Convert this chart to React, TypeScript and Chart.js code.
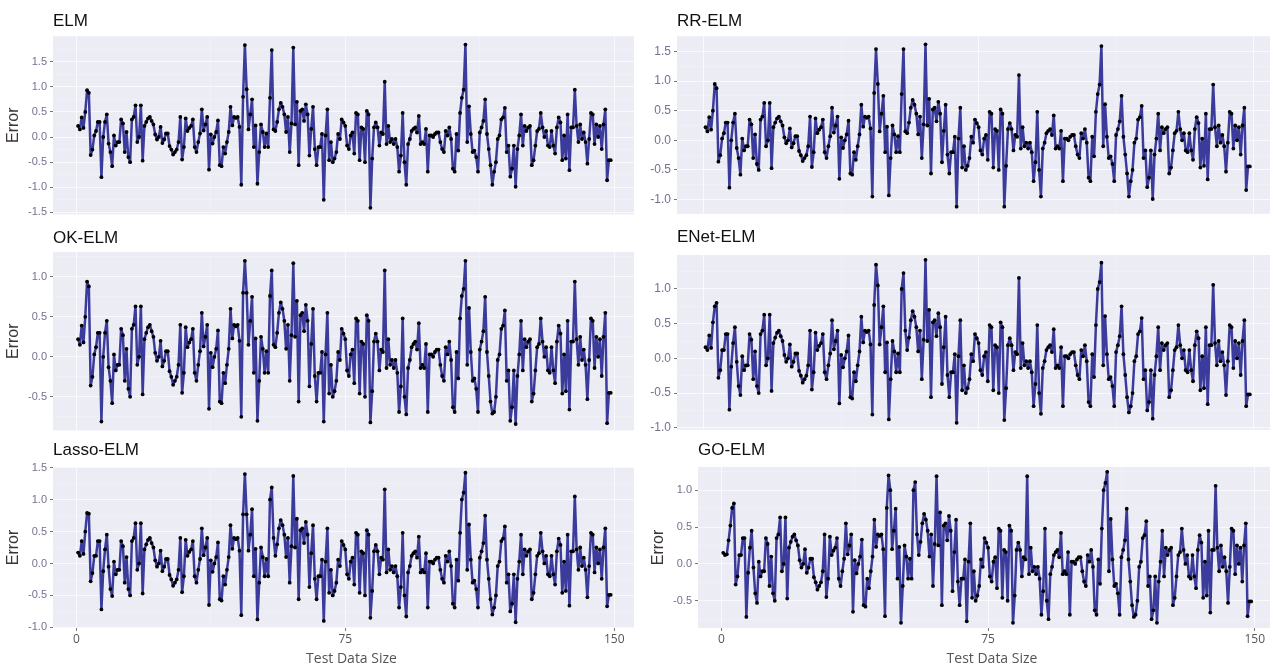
import React, { useEffect, useRef } from "react";
import { Chart, registerables } from "chart.js";
Chart.register(...registerables);

// ---------- data ----------
const ELM_ERR = [
  0.22, 0.15, 0.39, 0.18, 0.5, 0.93, 0.88, -0.36, -0.25, 0.03,
  0.12, 0.3, 0.3, -0.8, 0.0, 0.3, 0.45, -0.13, -0.3, -0.58,
  0.03, -0.17, -0.1, -0.1, 0.35, 0.27, -0.3, 0.1, -0.4, -0.5,
  0.35, 0.4, 0.63, -0.1, 0.0, 0.63, -0.47, 0.22, 0.3, 0.37,
  0.4, 0.32, 0.25, 0.05, -0.05, 0.0, 0.2, -0.12, -0.05, 0.07,
  0.07, -0.18, -0.25, -0.35, -0.3, -0.25, -0.1, 0.4, -0.45, -0.2,
  0.37, 0.12, 0.18, 0.22, 0.35, -0.2, -0.3, -0.1, 0.07, 0.55,
  0.13, 0.25, 0.4, -0.65, 0.05, -0.13, 0.0, 0.1, 0.33, -0.56,
  -0.58, -0.2, -0.33, -0.1, 0.1, 0.6, 0.23, 0.4, 0.38, 0.4,
  0.2, -0.95, 0.8, 1.83,
  0.95, 0.15, 0.45, 0.75, -0.2, 0.23, -0.93, -0.3, 0.25, 0.1,
  -0.2, 0.07, -0.2, 0.78, 1.73, 0.15, 0.12, 0.3, 0.55, 0.68,
  0.6, 0.45, 0.1, 0.4, -0.3, 0.27, 1.78,
  0.25, 0.7, -0.56, 0.52, 0.55, 0.32, 0.65, 0.45, -0.37, 0.16,
  0.6, -0.24, -0.56, -0.2, -0.2, 0.06, -1.25,
  0.03, 0.55, -0.46, -0.1, -0.5, -0.43, -0.3, 0.06, -0.04, 0.35,
  0.29, 0.22, -0.17, -0.24, 0.03, 0.09, -0.33, 0.48, 0.45, -0.46,
  0.19, 0.16, -0.5, 0.52, 0.45, -1.41,
  -0.43, 0.19, 0.29, 0.19, -0.17, 0.09, 0.06, 1.1,
  -0.14, 0.22, -0.1, -0.04, -0.14, -0.04, -0.2, -0.69, -0.37, 0.48,
  -0.5, -0.95, -0.14, -0.04, 0.12, 0.16, 0.19, 0.09, 0.42, -0.14,
  -0.1, -0.14, 0.16, -0.69, 0.03, 0.03, 0.0, 0.06, 0.09, 0.09,
  -0.1, -0.24, -0.3, 0.12, 0.03, 0.19, -0.04, -0.63, -0.69, 0.06,
  -0.27, 0.48, 0.78, 0.94, 1.84,
  -0.1, 0.61, 0.06, -0.3, -0.27, -0.4, -0.69, 0.09, 0.19, 0.32,
  0.75, 0.06, -0.24, -0.56, -0.95, -0.69, -0.5, -0.04, 0.03, 0.35,
  0.39, 0.58, -0.3, -0.17, -0.79, -0.63, -0.17, -0.99, -0.24, 0.03,
  0.45, -0.17, 0.22, 0.12, 0.19, 0.22, -0.56, -0.46, -0.17, 0.12,
  0.16, 0.48, 0.19, 0.0, 0.12, -0.17, -0.2, 0.12, -0.17, -0.33,
  0.19, 0.39, 0.29, -0.46, 0.03, -0.43, 0.45, -0.66, 0.19, 0.19,
  0.94,
  0.22, -0.1, 0.25, -0.04, 0.09, -0.1, -0.53, -0.04, 0.48, 0.45,
  -0.14, 0.25, 0.0, 0.22, -0.24, 0.25, 0.55, -0.86, -0.46, -0.46,
];

const RR_ELM_ERR = [
  0.22, 0.15, 0.39, 0.18, 0.5, 0.95, 0.88, -0.36, -0.25, 0.03,
  0.12, 0.3, 0.3, -0.8, 0.0, 0.3, 0.45, -0.13, -0.3, -0.58,
  0.03, -0.17, -0.1, -0.1, 0.35, 0.27, -0.3, 0.1, -0.4, -0.5,
  0.35, 0.4, 0.63, -0.1, 0.0, 0.63, -0.47, 0.22, 0.3, 0.37,
  0.4, 0.32, 0.25, 0.05, -0.05, 0.0, 0.2, -0.12, -0.05, 0.07,
  0.07, -0.18, -0.25, -0.35, -0.3, -0.25, -0.1, 0.4, -0.45, -0.2,
  0.37, 0.12, 0.18, 0.22, 0.35, -0.2, -0.3, -0.1, 0.07, 0.55,
  0.13, 0.25, 0.4, -0.65, 0.05, -0.13, 0.0, 0.1, 0.33, -0.56,
  -0.58, -0.2, -0.33, -0.1, 0.1, 0.6, 0.23, 0.4, 0.38, 0.4,
  0.2, -0.95, 0.8, 1.54,
  0.95, 0.15, 0.45, 0.75, -0.2, 0.23, -0.93, -0.3, 0.25, 0.1,
  -0.2, 0.07, -0.2, 0.78, 1.54, 0.15, 0.12, 0.3, 0.55, 0.68,
  0.6, 0.45, 0.1, 0.4, -0.3, 0.27, 1.62,
  0.25, 0.7, -0.56, 0.52, 0.55, 0.32, 0.65, 0.45, -0.37, 0.16,
  0.6, -0.24, -0.56, -0.2, -0.2, 0.06, -1.12,
  0.03, 0.55, -0.46, -0.1, -0.5, -0.43, -0.3, 0.06, -0.04, 0.35,
  0.29, 0.22, -0.17, -0.24, 0.03, 0.09, -0.33, 0.48, 0.45, -0.46,
  0.19, 0.16, -0.5, 0.52, 0.45, -1.12,
  -0.43, 0.19, 0.29, 0.19, -0.17, 0.09, 0.06, 1.1,
  -0.14, 0.22, -0.1, -0.04, -0.14, -0.04, -0.2, -0.69, -0.37, 0.48,
  -0.5, -0.95, -0.14, -0.04, 0.12, 0.16, 0.19, 0.09, 0.42, -0.14,
  -0.1, -0.14, 0.16, -0.69, 0.03, 0.03, 0.0, 0.06, 0.09, 0.09,
  -0.1, -0.24, -0.3, 0.12, 0.03, 0.19, -0.04, -0.63, -0.69, 0.06,
  -0.27, 0.48, 0.78, 0.94, 1.59,
  -0.1, 0.61, 0.06, -0.3, -0.27, -0.4, -0.69, 0.09, 0.19, 0.32,
  0.75, 0.06, -0.24, -0.56, -0.95, -0.69, -0.5, -0.04, 0.03, 0.35,
  0.39, 0.58, -0.3, -0.17, -0.79, -0.63, -0.17, -0.99, -0.24, 0.03,
  0.45, -0.17, 0.22, 0.12, 0.19, 0.22, -0.56, -0.46, -0.17, 0.12,
  0.16, 0.48, 0.19, 0.0, 0.12, -0.17, -0.2, 0.12, -0.17, -0.33,
  0.19, 0.39, 0.29, -0.46, 0.03, -0.43, 0.45, -0.66, 0.19, 0.19,
  0.94,
  0.22, -0.1, 0.25, -0.04, 0.09, -0.1, -0.53, -0.04, 0.48, 0.45,
  -0.14, 0.25, 0.0, 0.22, -0.24, 0.25, 0.55, -0.84, -0.44, -0.44,
];

const OK_ELM_ERR = [
  0.22, 0.15, 0.39, 0.18, 0.5, 0.94, 0.88, -0.36, -0.25, 0.03,
  0.12, 0.3, 0.3, -0.81, 0.0, 0.3, 0.45, -0.13, -0.3, -0.58,
  0.03, -0.17, -0.1, -0.1, 0.35, 0.27, -0.3, 0.1, -0.4, -0.5,
  0.35, 0.4, 0.63, -0.1, 0.0, 0.63, -0.47, 0.22, 0.3, 0.37,
  0.4, 0.32, 0.25, 0.05, -0.05, 0.0, 0.2, -0.12, -0.05, 0.07,
  0.07, -0.18, -0.25, -0.35, -0.3, -0.25, -0.1, 0.4, -0.45, -0.2,
  0.37, 0.12, 0.18, 0.22, 0.35, -0.2, -0.3, -0.1, 0.07, 0.55,
  0.13, 0.25, 0.4, -0.65, 0.05, -0.13, 0.0, 0.1, 0.33, -0.56,
  -0.58, -0.2, -0.33, -0.1, 0.1, 0.6, 0.23, 0.4, 0.38, 0.4,
  0.2, -0.75, 0.8, 1.2,
  0.8, 0.15, 0.45, 0.75, -0.2, 0.23, -0.8, -0.3, 0.25, 0.1,
  -0.2, 0.07, -0.2, 0.76, 1.08, 0.15, 0.12, 0.3, 0.55, 0.68,
  0.6, 0.45, 0.1, 0.4, -0.3, 0.27, 1.17,
  0.25, 0.7, -0.56, 0.52, 0.55, 0.32, 0.65, 0.45, -0.37, 0.16,
  0.6, -0.24, -0.56, -0.2, -0.2, 0.06, -0.81,
  0.03, 0.55, -0.46, -0.1, -0.5, -0.43, -0.3, 0.06, -0.04, 0.35,
  0.29, 0.22, -0.17, -0.24, 0.03, 0.09, -0.33, 0.48, 0.45, -0.46,
  0.19, 0.16, -0.5, 0.52, 0.45, -0.82,
  -0.43, 0.19, 0.29, 0.19, -0.17, 0.09, 0.06, 1.08,
  -0.14, 0.22, -0.1, -0.04, -0.14, -0.04, -0.2, -0.69, -0.37, 0.48,
  -0.5, -0.72, -0.14, -0.04, 0.12, 0.16, 0.19, 0.09, 0.42, -0.14,
  -0.1, -0.14, 0.16, -0.69, 0.03, 0.03, 0.0, 0.06, 0.09, 0.09,
  -0.1, -0.24, -0.3, 0.12, 0.03, 0.19, -0.04, -0.63, -0.69, 0.06,
  -0.27, 0.48, 0.76, 0.85, 1.2,
  -0.1, 0.61, 0.06, -0.3, -0.27, -0.4, -0.69, 0.09, 0.19, 0.32,
  0.75, 0.06, -0.24, -0.56, -0.71, -0.69, -0.5, -0.04, 0.03, 0.35,
  0.39, 0.58, -0.3, -0.17, -0.8, -0.63, -0.17, -0.84, -0.24, 0.03,
  0.45, -0.17, 0.22, 0.12, 0.19, 0.22, -0.56, -0.46, -0.17, 0.12,
  0.16, 0.48, 0.19, 0.0, 0.12, -0.17, -0.2, 0.12, -0.17, -0.33,
  0.19, 0.39, 0.29, -0.46, 0.03, -0.43, 0.45, -0.66, 0.19, 0.19,
  0.94,
  0.22, -0.1, 0.25, -0.04, 0.09, -0.1, -0.53, -0.04, 0.48, 0.45,
  -0.14, 0.25, 0.0, 0.22, -0.24, 0.25, 0.55, -0.83, -0.45, -0.45,
];

const ENET_ELM_ERR = [
  0.16, 0.12, 0.33, 0.15, 0.52, 0.75, 0.8, -0.28, -0.17, 0.12,
  0.12, 0.35, 0.35, -0.74, -0.12, 0.22, 0.45, -0.05, -0.4, -0.53,
  0.03, -0.17, -0.1, -0.1, 0.35, 0.27, -0.3, 0.1, -0.4, -0.5,
  0.35, 0.4, 0.63, -0.1, 0.0, 0.63, -0.47, 0.22, 0.3, 0.37,
  0.4, 0.32, 0.25, 0.05, -0.05, 0.0, 0.2, -0.12, -0.05, 0.07,
  0.07, -0.18, -0.25, -0.35, -0.3, -0.25, -0.1, 0.4, -0.45, -0.2,
  0.37, 0.12, 0.18, 0.22, 0.35, -0.2, -0.3, -0.1, 0.07, 0.55,
  0.13, 0.25, 0.4, -0.65, 0.05, -0.13, 0.0, 0.1, 0.33, -0.56,
  -0.58, -0.2, -0.33, -0.1, 0.1, 0.6, 0.23, 0.4, 0.38, 0.4,
  0.2, -0.81, 0.77, 1.35,
  1.05, 0.2, 0.45, 0.75, -0.2, 0.23, -0.88, -0.3, 0.25, 0.1,
  -0.2, 0.07, -0.2, 1.0, 1.23, 0.4, 0.12, 0.3, 0.55, 0.68,
  0.6, 0.45, 0.1, 0.4, -0.3, 0.27, 1.42,
  0.25, 0.7, -0.56, 0.52, 0.55, 0.32, 0.65, 0.45, -0.37, 0.16,
  0.6, -0.24, -0.56, -0.2, -0.2, 0.06, -0.93,
  0.03, 0.55, -0.46, -0.1, -0.5, -0.43, -0.3, 0.06, -0.04, 0.35,
  0.29, 0.22, -0.17, -0.24, 0.03, 0.09, -0.33, 0.48, 0.45, -0.46,
  0.19, 0.16, -0.5, 0.52, 0.45, -0.89,
  -0.43, 0.19, 0.29, 0.19, -0.17, 0.09, 0.06, 1.16,
  -0.14, 0.22, -0.1, -0.04, -0.14, -0.04, -0.2, -0.69, -0.37, 0.48,
  -0.5, -0.8, -0.14, -0.04, 0.12, 0.16, 0.19, 0.09, 0.42, -0.14,
  -0.1, -0.14, 0.16, -0.69, 0.03, 0.03, 0.0, 0.06, 0.09, 0.09,
  -0.1, -0.24, -0.3, 0.12, 0.03, 0.19, -0.04, -0.63, -0.69, 0.06,
  -0.27, 0.48, 1.0, 1.1, 1.38,
  -0.1, 0.61, 0.06, -0.3, -0.27, -0.4, -0.69, 0.09, 0.19, 0.32,
  0.75, 0.06, -0.24, -0.56, -0.78, -0.69, -0.5, -0.04, 0.03, 0.35,
  0.39, 0.58, -0.3, -0.17, -0.75, -0.63, -0.17, -0.87, -0.24, 0.03,
  0.45, -0.17, 0.22, 0.12, 0.19, 0.22, -0.56, -0.46, -0.17, 0.12,
  0.16, 0.48, 0.19, 0.0, 0.12, -0.17, -0.2, 0.12, -0.17, -0.33,
  0.19, 0.39, 0.29, -0.46, 0.03, -0.43, 0.45, -0.66, 0.19, 0.19,
  1.06,
  0.22, -0.1, 0.25, -0.04, 0.09, -0.1, -0.53, -0.04, 0.48, 0.45,
  -0.14, 0.25, 0.0, 0.22, -0.24, 0.25, 0.55, -0.69, -0.52, -0.52,
];

const LASSO_ELM_ERR = [
  0.17, 0.12, 0.35, 0.15, 0.5, 0.79, 0.78, -0.28, -0.15, 0.12,
  0.12, 0.35, 0.35, -0.72, -0.12, 0.22, 0.45, -0.05, -0.4, -0.51,
  0.03, -0.17, -0.1, -0.1, 0.35, 0.27, -0.3, 0.1, -0.4, -0.5,
  0.35, 0.4, 0.63, -0.1, 0.0, 0.63, -0.47, 0.22, 0.3, 0.37,
  0.4, 0.32, 0.25, 0.05, -0.05, 0.0, 0.2, -0.12, -0.05, 0.07,
  0.07, -0.18, -0.25, -0.35, -0.3, -0.25, -0.1, 0.4, -0.45, -0.2,
  0.37, 0.12, 0.18, 0.22, 0.35, -0.2, -0.3, -0.1, 0.07, 0.55,
  0.13, 0.25, 0.4, -0.65, 0.05, -0.13, 0.0, 0.1, 0.33, -0.56,
  -0.58, -0.2, -0.33, -0.1, 0.1, 0.6, 0.23, 0.4, 0.38, 0.4,
  0.2, -0.81, 0.77, 1.4,
  0.77, 0.2, 0.45, 0.85, -0.2, 0.23, -0.875, -0.3, 0.25, 0.1,
  -0.2, 0.07, -0.2, 1.0, 1.19, 0.4, 0.12, 0.3, 0.55, 0.68,
  0.6, 0.45, 0.1, 0.4, -0.3, 0.27, 1.37,
  0.25, 0.7, -0.56, 0.52, 0.55, 0.32, 0.65, 0.45, -0.37, 0.16,
  0.6, -0.24, -0.56, -0.2, -0.2, 0.06, -0.9,
  0.03, 0.55, -0.46, -0.1, -0.5, -0.43, -0.3, 0.06, -0.04, 0.35,
  0.29, 0.22, -0.17, -0.24, 0.03, 0.09, -0.33, 0.48, 0.45, -0.46,
  0.19, 0.16, -0.5, 0.52, 0.45, -0.85,
  -0.43, 0.19, 0.29, 0.19, -0.17, 0.09, 0.06, 1.16,
  -0.14, 0.22, -0.1, -0.04, -0.14, -0.04, -0.2, -0.69, -0.37, 0.48,
  -0.5, -0.83, -0.14, -0.04, 0.12, 0.16, 0.19, 0.09, 0.42, -0.14,
  -0.1, -0.14, 0.16, -0.69, 0.03, 0.03, 0.0, 0.06, 0.09, 0.09,
  -0.1, -0.24, -0.3, 0.12, 0.03, 0.19, -0.04, -0.63, -0.69, 0.06,
  -0.27, 0.48, 1.0, 1.11, 1.42,
  -0.1, 0.61, 0.06, -0.3, -0.27, -0.4, -0.69, 0.09, 0.19, 0.32,
  0.75, 0.06, -0.24, -0.56, -0.8, -0.69, -0.5, -0.04, 0.03, 0.35,
  0.39, 0.58, -0.3, -0.17, -0.75, -0.63, -0.17, -0.92, -0.24, 0.03,
  0.45, -0.17, 0.22, 0.12, 0.19, 0.22, -0.56, -0.46, -0.17, 0.12,
  0.16, 0.48, 0.19, 0.0, 0.12, -0.17, -0.2, 0.12, -0.17, -0.33,
  0.19, 0.39, 0.29, -0.46, 0.03, -0.43, 0.45, -0.66, 0.19, 0.19,
  1.05,
  0.22, -0.1, 0.25, -0.04, 0.09, -0.1, -0.53, -0.04, 0.48, 0.45,
  -0.14, 0.25, 0.0, 0.22, -0.24, 0.25, 0.55, -0.67, -0.49, -0.49,
];

const GO_ELM_ERR = [
  0.15, 0.12, 0.13, 0.32, 0.52, 0.76, 0.82, -0.28, -0.17, 0.12,
  0.12, 0.35, 0.35, -0.72, -0.12, 0.22, 0.45, -0.05, -0.4, -0.53,
  0.03, -0.17, -0.1, -0.1, 0.35, 0.27, -0.3, 0.1, -0.4, -0.5,
  0.35, 0.4, 0.63, -0.1, 0.0, 0.63, -0.47, 0.22, 0.3, 0.37,
  0.4, 0.32, 0.25, 0.05, -0.05, 0.0, 0.2, -0.12, -0.05, 0.07,
  0.07, -0.18, -0.25, -0.35, -0.3, -0.25, -0.1, 0.4, -0.45, -0.2,
  0.37, 0.12, 0.18, 0.22, 0.35, -0.2, -0.3, -0.1, 0.07, 0.55,
  0.13, 0.25, 0.4, -0.65, 0.05, -0.13, 0.0, 0.1, 0.33, -0.56,
  -0.58, -0.2, -0.33, -0.1, 0.1, 0.6, 0.23, 0.4, 0.38, 0.4,
  0.2, -0.71, 0.76, 1.2,
  1.0, 0.2, 0.45, 0.75, -0.2, 0.23, -0.8, -0.3, 0.25, 0.1,
  -0.2, 0.07, -0.2, 1.0, 1.11, 0.4, 0.12, 0.3, 0.55, 0.68,
  0.6, 0.45, 0.1, 0.4, -0.3, 0.27, 1.19,
  0.25, 0.7, -0.56, 0.52, 0.55, 0.32, 0.65, 0.45, -0.37, 0.16,
  0.6, -0.24, -0.56, -0.2, -0.2, 0.06, -0.78,
  0.03, 0.55, -0.46, -0.1, -0.5, -0.43, -0.3, 0.06, -0.04, 0.35,
  0.29, 0.22, -0.17, -0.24, 0.03, 0.09, -0.33, 0.48, 0.45, -0.46,
  0.19, 0.16, -0.5, 0.52, 0.45, -0.8,
  -0.43, 0.19, 0.29, 0.19, -0.17, 0.09, 0.06, 1.19,
  -0.14, 0.22, -0.1, -0.04, -0.14, -0.04, -0.2, -0.69, -0.37, 0.48,
  -0.5, -0.75, -0.14, -0.04, 0.12, 0.16, 0.19, 0.09, 0.42, -0.14,
  -0.1, -0.14, 0.16, -0.69, 0.03, 0.03, 0.0, 0.06, 0.09, 0.09,
  -0.1, -0.24, -0.3, 0.12, 0.03, 0.19, -0.04, -0.63, -0.69, 0.06,
  -0.27, 0.48, 1.0, 1.1, 1.25,
  -0.1, 0.61, 0.06, -0.3, -0.27, -0.4, -0.69, 0.09, 0.19, 0.32,
  0.75, 0.06, -0.24, -0.56, -0.72, -0.69, -0.5, -0.04, 0.03, 0.35,
  0.39, 0.58, -0.3, -0.17, -0.75, -0.63, -0.17, -0.8, -0.24, 0.03,
  0.45, -0.17, 0.22, 0.12, 0.19, 0.22, -0.56, -0.46, -0.17, 0.12,
  0.16, 0.48, 0.19, 0.0, 0.12, -0.17, -0.2, 0.12, -0.17, -0.33,
  0.19, 0.39, 0.29, -0.46, 0.03, -0.43, 0.45, -0.66, 0.19, 0.19,
  1.06,
  0.22, -0.1, 0.25, -0.04, 0.09, -0.1, -0.53, -0.04, 0.48, 0.45,
  -0.14, 0.25, 0.0, 0.22, -0.24, 0.25, 0.55, -0.71, -0.51, -0.51,
];

// tick labels
const X_TICKS = [0, 75, 150];
const Y_TICKS_ELM = [-1.5, -1.0, -0.5, 0.0, 0.5, 1.0, 1.5];
const Y_TICKS_RR = [-1.0, -0.5, 0.0, 0.5, 1.0, 1.5];
const Y_TICKS_OK = [-0.5, 0.0, 0.5, 1.0];
const Y_TICKS_ENET = [-1.0, -0.5, 0.0, 0.5, 1.0, 1.5];
const Y_TICKS_LASSO = [-1.0, -0.5, 0.0, 0.5, 1.0, 1.5];
const Y_TICKS_GO = [-0.5, 0.0, 0.5, 1.0];

// test sample positions along the x axis (two samples per unit)
const SAMPLE_X = ELM_ERR.map((_, i) => (i + 1) / 2);

// ---------- styling / layout ----------
const LINE_COLOR = "#3b3b9c";
const PANEL_BG = "#ECECF5";
const Y_TICK_COLOR = "#72728f";
const X_TICK_COLOR = "#555555";

type Panel = {
  title: string;
  values: number[];
  yTicks: number[];
  yMin: number;
  yMax: number;
  xMin: number;
  xMax: number;
  box: { x: number; y: number; w: number; h: number };
  area: { l: number; t: number; r: number; b: number };
  titleY: number;
  errorX: number | null;
  showX: boolean;
  tickSize: number;
};

const PANELS: Panel[] = [
  { title: "ELM", values: ELM_ERR, yTicks: Y_TICKS_ELM, yMin: -1.54, yMax: 2.01, xMin: -6.5, xMax: 155.5,
    box: { x: 0, y: 0, w: 640, h: 224 }, area: { l: 53, t: 36, r: 634, b: 218 }, titleY: 21, errorX: 14, showX: false, tickSize: 11 },
  { title: "RR-ELM", values: RR_ELM_ERR, yTicks: Y_TICKS_RR, yMin: -1.24, yMax: 1.76, xMin: -7.3, xMax: 154.5,
    box: { x: 640, y: 0, w: 634, h: 224 }, area: { l: 677, t: 36, r: 1272, b: 218 }, titleY: 21, errorX: null, showX: false, tickSize: 12 },
  { title: "OK-ELM", values: OK_ELM_ERR, yTicks: Y_TICKS_OK, yMin: -0.92, yMax: 1.31, xMin: -6.5, xMax: 155.5,
    box: { x: 0, y: 224, w: 640, h: 216 }, area: { l: 53, t: 252, r: 634, b: 433 }, titleY: 238.5, errorX: 14, showX: false, tickSize: 11 },
  { title: "ENet-ELM", values: ENET_ELM_ERR, yTicks: Y_TICKS_ENET, yMin: -1.03, yMax: 1.49, xMin: -7.3, xMax: 154.5,
    box: { x: 640, y: 224, w: 634, h: 216 }, area: { l: 677, t: 255, r: 1272, b: 433 }, titleY: 237.5, errorX: null, showX: false, tickSize: 12 },
  { title: "Lasso-ELM", values: LASSO_ELM_ERR, yTicks: Y_TICKS_LASSO, yMin: -1.01, yMax: 1.51, xMin: -6.5, xMax: 155.5,
    box: { x: 0, y: 440, w: 640, h: 228 }, area: { l: 53, t: 467, r: 634, b: 628 }, titleY: 450, errorX: 14, showX: true, tickSize: 11 },
  { title: "GO-ELM", values: GO_ELM_ERR, yTicks: Y_TICKS_GO, yMin: -0.87, yMax: 1.315, xMin: -6.6, xMax: 154.3,
    box: { x: 640, y: 440, w: 634, h: 228 }, area: { l: 698, t: 467, r: 1272, b: 628 }, titleY: 450, errorX: 659, showX: true, tickSize: 11 },
];

const near = (a: number, list: number[]) => list.some((v) => Math.abs(v - a) < 1e-6);

function gridValues(major: number[], lo: number, hi: number, step: number) {
  const out: number[] = [];
  const start = major[0] - step * 10;
  for (let k = 0; k <= 40; k++) {
    const v = Math.round((start + k * step) * 1000) / 1000;
    if (v > lo && v < hi) out.push(v);
  }
  return out;
}

function buildChart(canvas: HTMLCanvasElement, p: Panel) {
  const yStep = p.yTicks[1] - p.yTicks[0];
  const yGrid = gridValues(p.yTicks, p.yMin, p.yMax, yStep / 2);
  const xGrid = [0, 37.5, 75, 112.5, 150];
  const lx = p.area.l - p.box.x;
  const rx = p.area.r - p.box.x;
  const ty = p.area.t - p.box.y;
  const by = p.area.b - p.box.y;

  const bgPlugin = {
    id: "panelBg",
    beforeDraw(chart: any) {
      const { ctx, chartArea: a } = chart;
      ctx.save();
      ctx.fillStyle = PANEL_BG;
      ctx.fillRect(a.left, a.top, a.right - a.left, a.bottom - a.top);
      ctx.restore();
    },
  };

  const textPlugin = {
    id: "panelText",
    afterDraw(chart: any) {
      const { ctx, chartArea: a } = chart;
      ctx.save();
      ctx.fillStyle = "#111111";
      ctx.font = "17px 'Liberation Sans', Arial, sans-serif";
      ctx.textAlign = "left";
      ctx.textBaseline = "middle";
      ctx.fillText(p.title, a.left, p.titleY - p.box.y);
      if (p.errorX !== null) {
        ctx.save();
        ctx.translate(p.errorX - p.box.x, (a.top + a.bottom) / 2);
        ctx.rotate(-Math.PI / 2);
        ctx.fillStyle = "#3b3434";
        ctx.font = "16px 'Liberation Sans', Arial, sans-serif";
        ctx.textAlign = "center";
        ctx.textBaseline = "middle";
        ctx.fillText("Error", 0, 0);
        ctx.restore();
      }
      if (p.showX) {
        ctx.fillStyle = "#555555";
        ctx.font = "14px 'Open Sans', sans-serif";
        ctx.textAlign = "center";
        ctx.textBaseline = "middle";
        ctx.fillText("Test Data Size", (a.left + a.right) / 2 + 8, 659 - p.box.y);
      }
      ctx.restore();
    },
  };

  const data = p.values.map((v, i) => ({ x: SAMPLE_X[i], y: v }));

  return new Chart(canvas, {
    type: "line",
    data: {
      datasets: [
        {
          data,
          borderColor: LINE_COLOR,
          borderWidth: 2.5,
          borderJoinStyle: "round",
          borderCapStyle: "round",
          pointRadius: 1.9,
          pointBackgroundColor: "#000000",
          pointBorderWidth: 0,
          tension: 0,
          fill: false,
        },
      ],
    },
    options: {
      animation: false,
      responsive: false,
      maintainAspectRatio: false,
      events: [],
      layout: {
        padding: {
          left: 0,
          top: ty,
          right: p.box.w - rx,
          bottom: p.showX ? 0 : p.box.h - by,
        },
      },
      plugins: { legend: { display: false }, tooltip: { enabled: false }, title: { display: false } },
      scales: {
        x: {
          type: "linear",
          min: p.xMin,
          max: p.xMax,
          afterFit: (s: any) => {
            s.height = p.showX ? p.box.h - by : 0;
          },
          afterBuildTicks: (s: any) => {
            s.ticks = xGrid.map((v) => ({ value: v }));
          },
          ticks: {
            display: p.showX,
            autoSkip: false,
            maxRotation: 0,
            padding: 1,
            color: X_TICK_COLOR,
            font: { family: "'Open Sans', sans-serif", size: 12 },
            callback: (v: any) => (near(Number(v), X_TICKS) ? String(v) : ""),
          },
          grid: {
            color: (c: any) => (c.tick && near(c.tick.value, X_TICKS) ? "rgba(255,255,255,0.75)" : "rgba(255,255,255,0.4)"),
            lineWidth: (c: any) => (c.tick && near(c.tick.value, X_TICKS) ? 1 : 0.6),
            drawTicks: p.showX,
            tickLength: 3,
            tickColor: (c: any) => (c.tick && near(c.tick.value, X_TICKS) ? "#777777" : "rgba(0,0,0,0)"),
          },
          border: { display: false },
        },
        y: {
          type: "linear",
          min: p.yMin,
          max: p.yMax,
          afterFit: (s: any) => {
            s.width = lx;
          },
          afterBuildTicks: (s: any) => {
            s.ticks = yGrid.map((v) => ({ value: v }));
          },
          ticks: {
            autoSkip: false,
            padding: 3,
            color: Y_TICK_COLOR,
            font: { family: "'Liberation Sans', Arial, sans-serif", size: p.tickSize },
            callback: (v: any) => (near(Number(v), p.yTicks) ? Number(v).toFixed(1) : ""),
          },
          grid: {
            color: (c: any) => (c.tick && near(c.tick.value, p.yTicks) ? "rgba(255,255,255,0.75)" : "rgba(255,255,255,0.4)"),
            lineWidth: (c: any) => (c.tick && near(c.tick.value, p.yTicks) ? 1 : 0.6),
            drawTicks: true,
            tickLength: 3,
            tickColor: (c: any) => (c.tick && near(c.tick.value, p.yTicks) ? "#777777" : "rgba(0,0,0,0)"),
          },
          border: { display: false },
        },
      },
    } as any,
    plugins: [bgPlugin, textPlugin],
  });
}

function PanelCanvas({ panel }: { panel: Panel }) {
  const ref = useRef<HTMLCanvasElement | null>(null);
  useEffect(() => {
    if (!ref.current) return;
    const chart = buildChart(ref.current, panel);
    return () => chart.destroy();
  }, [panel]);
  return (
    <canvas
      ref={ref}
      width={panel.box.w}
      height={panel.box.h}
      style={{ position: "absolute", left: panel.box.x, top: panel.box.y, width: panel.box.w, height: panel.box.h }}
    />
  );
}

export default function App() {
  return (
    <div style={{ position: "fixed", left: 0, top: 0, width: 1274, height: 668, background: "#ffffff", overflow: "hidden" }}>
      {PANELS.map((p) => (
        <PanelCanvas key={p.title} panel={p} />
      ))}
    </div>
  );
}
